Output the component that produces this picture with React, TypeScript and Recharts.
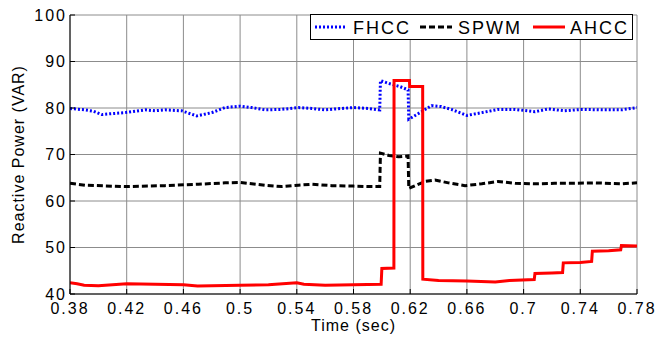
import React from "react";
import {
  LineChart,
  Line,
  XAxis,
  YAxis,
  CartesianGrid,
} from "recharts";

// [time (sec), reactive power (VAR)]
const fhcc = [
  [0.38, 79.9], [0.3906, 79.6], [0.3965, 79.3], [0.4024, 78.6], [0.41, 78.8],
  [0.4188, 79.0], [0.433, 79.6], [0.44, 79.4], [0.447, 79.6], [0.4588, 79.4],
  [0.4694, 78.3], [0.48, 79.0], [0.4894, 80.1], [0.5, 80.4], [0.5082, 80.1],
  [0.5176, 79.6], [0.5294, 79.7], [0.5411, 80.1], [0.5505, 79.9], [0.56, 79.6],
  [0.5717, 79.9], [0.58, 80.1], [0.5905, 79.9], [0.5985, 79.6], [0.599, 85.9],
  [0.6057, 85.2], [0.6128, 84.6], [0.6185, 83.9], [0.619, 77.6], [0.628, 79.2],
  [0.635, 80.5], [0.642, 80.3], [0.649, 79.7], [0.66, 78.4], [0.6705, 79.0],
  [0.682, 79.7], [0.694, 79.7], [0.708, 79.2], [0.7174, 79.8], [0.729, 79.4],
  [0.741, 79.7], [0.755, 79.6], [0.769, 79.6], [0.78, 80.1],
];

const spwm = [
  [0.38, 63.8], [0.3906, 63.4], [0.4188, 63.1], [0.447, 63.3], [0.4705, 63.6],
  [0.4894, 63.9], [0.5, 64.0], [0.5176, 63.4], [0.5294, 63.1], [0.5411, 63.4],
  [0.5505, 63.6], [0.5647, 63.3], [0.58, 63.2], [0.5905, 63.1], [0.5985, 63.1],
  [0.599, 70.3], [0.605, 69.8], [0.612, 69.5], [0.6185, 69.7], [0.619, 62.7],
  [0.6304, 64.2], [0.6375, 64.5], [0.647, 63.9], [0.6587, 63.3], [0.6705, 63.7],
  [0.682, 64.2], [0.694, 63.8], [0.708, 63.7], [0.722, 63.8], [0.736, 63.8],
  [0.75, 63.9], [0.769, 63.7], [0.78, 63.9],
];

const ahcc = [
  [0.38, 42.4], [0.385, 42.2], [0.39, 41.9], [0.4, 41.8], [0.42, 42.2],
  [0.44, 42.1], [0.46, 42.0], [0.47, 41.7], [0.48, 41.8], [0.5, 41.9],
  [0.52, 42.0], [0.54, 42.4], [0.545, 42.1], [0.56, 41.9], [0.58, 42.0],
  [0.5995, 42.1], [0.6, 45.5], [0.6085, 45.6], [0.6086, 85.9], [0.6195, 85.9],
  [0.6196, 84.6], [0.6288, 84.6], [0.6289, 43.2], [0.64, 42.9], [0.66, 42.8],
  [0.68, 42.6], [0.69, 42.9], [0.7075, 43.1], [0.708, 44.4], [0.72, 44.5],
  [0.7275, 44.6], [0.728, 46.7], [0.74, 46.8], [0.748, 47.0], [0.7485, 49.2],
  [0.76, 49.3], [0.7685, 49.5], [0.769, 50.4], [0.78, 50.3],
];

const xTicks = [0.38, 0.42, 0.46, 0.5, 0.54, 0.58, 0.62, 0.66, 0.7, 0.74, 0.78];
const yTicks = [40, 50, 60, 70, 80, 90, 100];

const toRows = (pts: number[][]) => pts.map(([t, v]) => ({ t, v }));

const font = "'Liberation Sans', Arial, sans-serif";
const tickStyle = { fill: "#000", fontSize: 16, fontFamily: font, letterSpacing: 2 };

function LegendBox() {
  const txt = { fontSize: 18, fontFamily: font, letterSpacing: 2, fill: "#000" };
  return (
    <svg
      width={323}
      height={26}
      style={{ position: "absolute", left: 310, top: 14 }}
    >
      <rect x={0.5} y={0.5} width={322} height={25} fill="#fff" stroke="#000" />
      <line x1={5} x2={35} y1={13} y2={13} stroke="#0000ff" strokeWidth={3} strokeDasharray="2 2" />
      <text x={43} y={20} style={txt}>FHCC</text>
      <line x1={110} x2={142} y1={13} y2={13} stroke="#000" strokeWidth={3} strokeDasharray="6 3" />
      <text x={148} y={20} style={txt}>SPWM</text>
      <line x1={223} x2={255} y1={13} y2={13} stroke="#ff0000" strokeWidth={3} />
      <text x={260} y={20} style={txt}>AHCC</text>
    </svg>
  );
}

export default function App() {
  return (
    <div style={{ position: "absolute", left: 0, top: 0, width: 660, height: 339, background: "#fff" }}>
      <LineChart
        width={660}
        height={339}
        margin={{ top: 15, right: 23, left: 0, bottom: 0 }}
      >
        <CartesianGrid stroke="#8c8c8c" />
        <XAxis
          dataKey="t"
          type="number"
          domain={[0.38, 0.78]}
          ticks={xTicks}
          allowDataOverflow
          height={45}
          stroke="#000"
          tickSize={-5}
          tickMargin={14}
          tick={tickStyle}
          tickFormatter={(v: number) => String(Number(v.toFixed(2)))}
          label={{ value: "Time (sec)", position: "insideBottom", offset: 8, fill: "#000", fontSize: 16, fontFamily: font, letterSpacing: 1 }}
        />
        <XAxis
          xAxisId="top"
          orientation="top"
          dataKey="t"
          type="number"
          domain={[0.38, 0.78]}
          ticks={xTicks}
          height={0}
          stroke="#000"
          tickSize={-5}
          tick={false}
        />
        <YAxis
          type="number"
          domain={[40, 100]}
          ticks={yTicks}
          width={70}
          stroke="#000"
          tickSize={-5}
          tickMargin={8}
          tick={tickStyle}
          label={{ value: "Reactive Power (VAR)", angle: -90, position: "center", dx: -17, fill: "#000", fontSize: 16, fontFamily: font, letterSpacing: 1 }}
        />
        <YAxis
          yAxisId="right"
          orientation="right"
          type="number"
          domain={[40, 100]}
          ticks={yTicks}
          width={0}
          stroke="#000"
          tickSize={-5}
          tick={false}
        />
        <Line
          data={toRows(fhcc)}
          dataKey="v"
          type="linear"
          stroke="#0000ff"
          strokeWidth={3}
          strokeDasharray="2 2"
          dot={false}
          isAnimationActive={false}
        />
        <Line
          data={toRows(spwm)}
          dataKey="v"
          type="linear"
          stroke="#000"
          strokeWidth={3}
          strokeDasharray="6 3"
          dot={false}
          isAnimationActive={false}
        />
        <Line
          data={toRows(ahcc)}
          dataKey="v"
          type="linear"
          stroke="#ff0000"
          strokeWidth={3}
          dot={false}
          isAnimationActive={false}
        />
      </LineChart>
      <LegendBox />
    </div>
  );
}
